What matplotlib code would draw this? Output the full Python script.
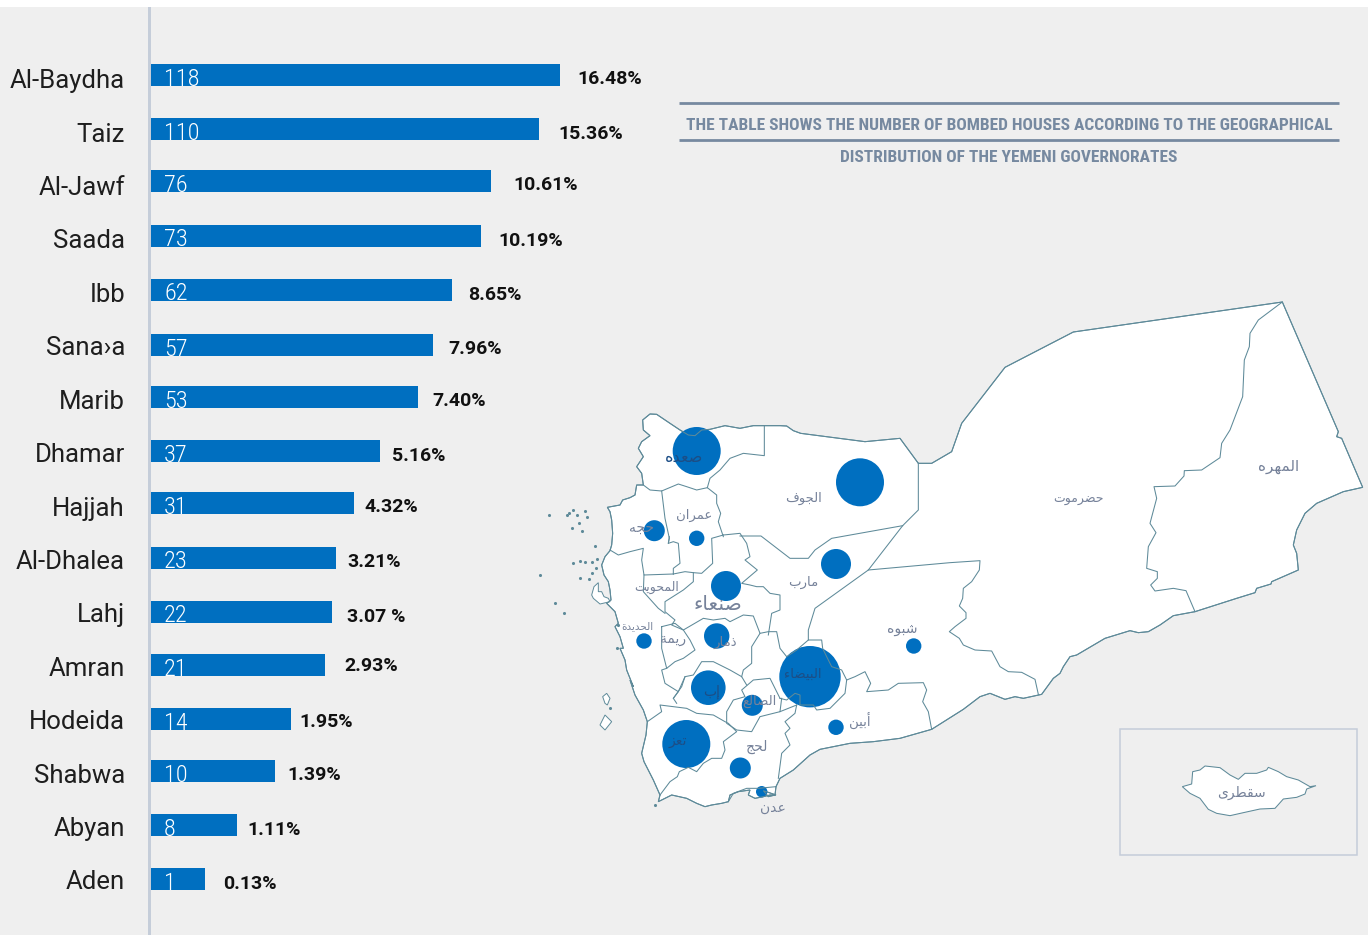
import matplotlib
matplotlib.use("Agg")
import matplotlib.pyplot as plt
from matplotlib.patches import Circle, Polygon, Rectangle

# ---------- data ----------
governorates = ["Al-Baydha", "Taiz", "Al-Jawf", "Saada", "Ibb", "Sana\u203aa", "Marib", "Dhamar",
                "Hajjah", "Al-Dhalea", "Lahj", "Amran", "Hodeida", "Shabwa", "Abyan", "Aden"]
houses = [118, 110, 76, 73, 62, 57, 53, 37, 31, 23, 22, 21, 14, 10, 8, 1]
percent_labels = ["16.48%", "15.36%", "10.61%", "10.19%", "8.65%", "7.96%", "7.40%", "5.16%",
                  "4.32%", "3.21%", "3.07 %", "2.93%", "1.95%", "1.39%", "1.11%", "0.13%"]
bar_lengths = [409, 388, 340, 330, 301, 282, 267, 229, 203, 185, 181, 174, 140, 124, 86, 54]

map_names = ["صعده", "الجوف", "عمران", "حجه", "المحويت", "صنعاء", "مارب", "الحديدة", "ريمة", "ذمار",
             "شبوه", "البيضاء", "إب", "الضالع", "أبين", "تعز", "لحج", "عدن", "حضرموت", "المهره", "سقطرى"]

# ---------- layout (pixels) ----------
bar_y = [75, 129, 181, 236, 290, 345, 397, 451, 503, 558, 612, 665, 719, 771, 825, 879]
label_y = [81, 135, 188, 241, 295, 348, 402, 455, 509, 562, 615, 669, 722, 776, 829, 882]
pct_x = [577, 558, 513, 498, 468, 448, 432, 392, 364, 347, 347, 344, 299, 287, 247, 223]
pct_y = [79, 134, 185, 241, 295, 349, 401, 456, 507, 562, 617, 666, 722, 775, 830, 884]
bubble_xy = [(696.7, 451), (860, 482.3), (654.3, 530.7), (696.7, 538.3), (726, 586), (836, 564),
             (644, 641), (716.7, 636), (708.3, 687.7), (810, 676.7), (752.3, 705.3), (686.3, 744),
             (740.3, 768), (836, 727.3), (913.7, 646), (761.7, 791.7)]
bubble_r = [24, 24, 10.5, 7.7, 15, 15, 7.7, 12.7, 17.3, 30.7, 10.5, 24, 10.5, 7.7, 7.7, 5.7]
name_xy = [(684, 457, 11.5), (803, 498, 9.5), (694, 515, 9.5), (641, 528, 10), (657, 587, 9), (718, 604, 14.5),
           (803, 582, 9.5), (637, 626, 7.5), (673, 639, 10), (725, 642, 9.5), (902, 629, 10), (803, 674, 9.5),
           (712, 692, 10), (759, 701, 9.5), (860, 721, 9.5), (678, 741, 10), (757, 747, 10), (773, 808, 10),
           (1078, 499, 9), (1279, 467, 11), (1241, 793, 10)]
on_bubble = {"صعده", "البيضاء", "إب", "تعز"}


def z1(pts):
    return [(530 + x / 3, 400 + y / 3) for x, y in pts]


def z2(pts):
    return [(900 + x / 3, 290 + y / 3) for x, y in pts]


def z3(pts):
    return [(1110 + x / 3, 720 + y / 3) for x, y in pts]


def z4(pts):
    return [(530 + x / 3, 500 + y / 3) for x, y in pts]


def z5(pts):
    return [(590 + x / 3, 680 + y / 3) for x, y in pts]


def z6(pts):
    return [(630 + x / 3, 405 + y / 3) for x, y in pts]


outline = (
    z6([(38, 45), (60, 27), (80, 28), (120, 55), (150, 75), (175, 90), (195, 92), (215, 75), (240, 73),
        (285, 62), (330, 70), (370, 62), (403, 62), (450, 62)])
    + z1([(770, 78), (790, 92), (812, 100), (1005, 125), (1110, 115), (1165, 190)])
    + z2([(55, 520), (95, 520), (155, 485), (185, 400), (315, 232), (520, 126), (1147, 36), (1315, 425),
          (1310, 440), (1325, 445), (1388, 592), (1330, 605), (1250, 640), (1215, 670), (1190, 720),
          (1180, 765), (1190, 790), (1195, 840), (1115, 875), (1113, 882), (1070, 895), (1065, 908),
          (1010, 925), (885, 965), (820, 977), (780, 1005), (745, 1025), (715, 1028), (690, 1022),
          (615, 1045), (530, 1095), (510, 1100), (490, 1130), (480, 1150), (460, 1165), (425, 1213),
          (370, 1225), (345, 1220), (315, 1228), (270, 1210), (240, 1220), (190, 1258)])
    + z1([(1205, 988), (1110, 1015), (1030, 1025), (960, 1030), (870, 1048), (840, 1065), (790, 1110),
          (750, 1135), (738, 1160), (735, 1185), (715, 1190), (700, 1172)])
    + z5([(558, 345), (540, 345), (520, 350), (495, 355), (475, 345), (480, 330), (445, 335), (420, 345),
          (415, 365), (395, 370), (365, 375), (345, 380), (320, 370), (290, 355), (245, 345), (225, 355),
          (205, 365), (210, 345), (190, 300), (162, 245), (155, 220), (168, 165), (172, 125), (160, 90),
          (135, 45), (120, 0)])
    + z1([(310, 860), (290, 810), (285, 780), (270, 745)])
    + z4([(280, 445), (270, 410), (255, 380), (265, 370), (255, 335), (230, 310), (243, 300), (240, 270),
          (235, 245), (222, 225), (215, 195), (225, 170), (240, 152), (245, 135), (248, 100), (245, 60),
          (240, 35), (232, 22), (270, 15), (278, 0)])
    + z6([(0, 278), (15, 270), (20, 240), (40, 240), (35, 205), (20, 185), (40, 155), (25, 130), (35, 110),
          (60, 92), (40, 75)])
)

borders = [
    z6([(403, 62), (403, 152), (340, 145), (300, 160), (270, 195), (240, 220), (232, 248)]),
    z6([(40, 240), (60, 255), (95, 258), (145, 237), (170, 245), (200, 255), (232, 248), (260, 270), (260, 295),
        (272, 325), (265, 350), (280, 395)]),
    z6([(95, 258), (105, 340), (118, 400), (115, 415)]),
    z1([(418, 410), (415, 430), (430, 425), (445, 430), (450, 490), (430, 505), (430, 522)]),
    z1([(580, 405), (545, 415), (548, 490), (515, 520), (490, 518), (465, 515), (430, 522)]),
    z1([(240, 450), (265, 465), (300, 455), (340, 445), (335, 480), (342, 525), (430, 522)]),
    z1([(580, 405), (630, 400), (650, 430), (660, 470), (645, 480), (682, 510), (635, 550), (660, 555),
        (680, 560), (700, 560), (720, 580), (750, 585), (750, 630), (725, 640), (715, 705)]),
    z1([(490, 518), (490, 545), (460, 570), (405, 605), (405, 635), (435, 660), (425, 675), (460, 690),
        (520, 655), (550, 660), (585, 655), (600, 665), (640, 645), (670, 648), (690, 700), (715, 695),
        (740, 695), (750, 745), (770, 770), (800, 750), (835, 720)]),
    z1([(342, 525), (340, 575), (385, 625), (405, 640)]),
    z1([(630, 408), (693, 408), (780, 475), (835, 475), (855, 450), (905, 415), (1118, 377)]),
    z1([(1165, 190), (1165, 330), (1118, 377), (1015, 510), (855, 625), (835, 690), (835, 720), (875, 720),
        (878, 745), (890, 770), (905, 800), (935, 810), (950, 840), (945, 880), (900, 925), (860, 930),
        (850, 915), (810, 915), (810, 885), (795, 880), (770, 900), (750, 895)]),
    z1([(1015, 510), (1260, 488)]) + z2([(240, 812), (238, 840), (215, 875), (190, 895), (188, 925),
                                         (178, 948), (198, 968), (198, 985), (165, 1010), (148, 1025),
                                         (178, 1045), (190, 1065), (225, 1080), (275, 1083), (300, 1130),
                                         (325, 1145), (365, 1147), (405, 1168), (415, 1213)]),
    z1([(950, 840), (975, 830), (1005, 815), (1022, 850), (1010, 875), (1075, 870), (1105, 850), (1180, 848),
        (1190, 870), (1178, 905), (1195, 935), (1205, 988)]),
    z1([(800, 915), (795, 940), (765, 965), (780, 985), (765, 1000), (780, 1035), (755, 1060), (745, 1135)]),
    z1([(750, 895), (720, 835), (670, 840), (635, 870), (645, 890), (610, 900), (590, 935), (590, 970),
        (620, 990), (665, 995), (690, 950), (750, 935), (755, 895)]),
    z1([(750, 935), (800, 915)]),
    z1([(430, 895), (455, 860), (465, 830), (490, 825), (515, 785), (550, 785), (600, 810), (635, 830),
        (650, 855)]),
    z5([(172, 125), (215, 95), (210, 75), (250, 80), (290, 85), (320, 100), (370, 105), (405, 125), (415, 130),
        (440, 155), (400, 185), (405, 210), (395, 235), (365, 235), (340, 250), (320, 275), (295, 262),
        (268, 275), (262, 290), (240, 305), (210, 345)]),
    z1([(690, 700), (665, 740), (665, 790), (640, 810), (635, 830)]),
    z1([(395, 680), (435, 670), (460, 690), (480, 720), (495, 750), (460, 775), (435, 785), (410, 805),
        (395, 745), (395, 680)]),
    z1([(410, 805), (395, 810), (405, 850), (445, 875), (465, 830)]),
    z1([(445, 875), (430, 895), (440, 910)]),
    z5([(415, 365), (430, 340), (470, 325), (505, 325), (558, 320)]),
    z2([(1147, 36), (1075, 90), (1050, 130), (1048, 170), (1033, 210), (1028, 320), (990, 420), (965, 460),
        (960, 503), (905, 540), (853, 542), (852, 558), (825, 588), (762, 590), (770, 625), (750, 700),
        (768, 728), (745, 770), (740, 835), (772, 845), (772, 865), (752, 885), (765, 903), (820, 895),
        (858, 902), (885, 965)]),
]

islands = [
    z4([(185, 285), (192, 260), (205, 248), (205, 275), (215, 275), (222, 290), (235, 295), (240, 305), (210, 312),
        (190, 295)]),
    z5([(38, 50), (50, 40), (60, 55), (52, 75), (45, 70)]),
    z5([(30, 135), (45, 105), (65, 125), (45, 150)]),
]
island_dots = z4([(58, 44), (110, 44), (118, 40), (130, 30), (140, 45), (165, 32), (172, 50), (147, 70),
                  (127, 84), (155, 93), (196, 138), (130, 190), (150, 183), (165, 185), (185, 187), (200, 178),
                  (198, 205), (185, 220), (150, 235), (178, 238), (30, 225), (75, 308), (103, 340),
                  (265, 375), (262, 445)]) + z5([(60, 85), (195, 374)])

socotra = z3([(217, 200), (245, 192), (248, 155), (270, 150), (285, 138), (330, 143), (360, 165), (385, 178),
              (405, 160), (440, 160), (470, 150), (475, 142), (505, 155), (530, 170), (565, 180), (600, 200),
              (618, 197), (590, 207), (585, 222), (560, 232), (520, 237), (495, 265), (450, 267), (400, 278),
              (360, 287), (320, 280), (295, 268), (270, 235), (240, 220)])

# ---------- Arabic shaping (matplotlib draws glyphs left to right without joining) ----------
FORMS = {
    "ا": (0xFE8D, 0xFE8E), "أ": (0xFE83, 0xFE84), "إ": (0xFE87, 0xFE88), "ء": (0xFE80,),
    "ب": (0xFE8F, 0xFE90, 0xFE91, 0xFE92), "ة": (0xFE93, 0xFE94), "ت": (0xFE95, 0xFE96, 0xFE97, 0xFE98),
    "ج": (0xFE9D, 0xFE9E, 0xFE9F, 0xFEA0), "ح": (0xFEA1, 0xFEA2, 0xFEA3, 0xFEA4), "د": (0xFEA9, 0xFEAA),
    "ذ": (0xFEAB, 0xFEAC), "ر": (0xFEAD, 0xFEAE), "ز": (0xFEAF, 0xFEB0), "س": (0xFEB1, 0xFEB2, 0xFEB3, 0xFEB4),
    "ش": (0xFEB5, 0xFEB6, 0xFEB7, 0xFEB8), "ص": (0xFEB9, 0xFEBA, 0xFEBB, 0xFEBC),
    "ض": (0xFEBD, 0xFEBE, 0xFEBF, 0xFEC0), "ط": (0xFEC1, 0xFEC2, 0xFEC3, 0xFEC4),
    "ع": (0xFEC9, 0xFECA, 0xFECB, 0xFECC), "ف": (0xFED1, 0xFED2, 0xFED3, 0xFED4),
    "ق": (0xFED5, 0xFED6, 0xFED7, 0xFED8), "ل": (0xFEDD, 0xFEDE, 0xFEDF, 0xFEE0),
    "م": (0xFEE1, 0xFEE2, 0xFEE3, 0xFEE4), "ن": (0xFEE5, 0xFEE6, 0xFEE7, 0xFEE8),
    "ه": (0xFEE9, 0xFEEA, 0xFEEB, 0xFEEC), "و": (0xFEED, 0xFEEE), "ى": (0xFEEF, 0xFEF0),
    "ي": (0xFEF1, 0xFEF2, 0xFEF3, 0xFEF4),
}
DUAL = {c for c, f in FORMS.items() if len(f) == 4} - {"ى"}


def shape(word):
    out = []
    for i, c in enumerate(word):
        joins_prev = i > 0 and word[i - 1] in DUAL and len(FORMS[c]) > 1
        joins_next = c in DUAL and i + 1 < len(word) and len(FORMS[word[i + 1]]) > 1
        f = FORMS[c]
        if joins_prev and joins_next:
            g = f[3]
        elif joins_next:
            g = f[2]
        elif joins_prev:
            g = f[1]
        else:
            g = f[0]
        out.append(chr(g))
    return "".join(reversed(out))


# ---------- figure ----------
BG = "#EFEFEF"
BLUE = "#006FC0"
EDGE = "#5E8A99"
RULE = "#7689A0"
SIDE = "#C5CDD9"
TEXT = "#1E1E1E"
ARABIC = "#76829A"

fig = plt.figure(figsize=(13.68, 9.35), dpi=100, facecolor="white")
ax = fig.add_axes([0, 0, 1, 1])
ax.set_xlim(0, 1368)
ax.set_ylim(935, 0)
ax.axis("off")
ax.add_patch(Rectangle((0, 7), 1368, 928, facecolor=BG, edgecolor="none", zorder=0))

# bars
ax.barh(bar_y, bar_lengths, left=151, height=22, color=BLUE, zorder=2)
ax.add_patch(Rectangle((147.5, 7), 3.5, 928, facecolor=SIDE, edgecolor="none", zorder=3))
for i, name in enumerate(governorates):
    ax.text(125, label_y[i], name, ha="right", va="center", fontsize=18.5, color=TEXT,
            family="Roboto", weight="normal", zorder=4)
    ax.text(164, bar_y[i] + 4, str(houses[i]), ha="left", va="center", fontsize=17.5, color="white",
            family="Roboto Condensed", weight="light", zorder=4)
    ax.text(pct_x[i], pct_y[i], percent_labels[i], ha="left", va="center", fontsize=14,
            color="#111111", family="Roboto", weight="bold", zorder=4)

# title
for y in (102.5, 139.5):
    ax.plot([679, 1339], [y, y], color=RULE, lw=2, solid_capstyle="butt", zorder=2)
ax.text(1009, 125, "THE TABLE SHOWS THE NUMBER OF BOMBED HOUSES ACCORDING TO THE GEOGRAPHICAL", ha="center",
        va="center", fontsize=12.55, color=RULE, family="Roboto Condensed", weight="bold")
ax.text(1009, 157, "DISTRIBUTION OF THE YEMENI GOVERNORATES", ha="center", va="center", fontsize=12.55,
        color=RULE, family="Roboto Condensed", weight="bold")

# map
ax.add_patch(Polygon(outline, closed=True, facecolor="white", edgecolor=EDGE, lw=0.75, zorder=2))
for poly in islands:
    ax.add_patch(Polygon(poly, closed=True, facecolor="white", edgecolor=EDGE, lw=0.7, zorder=2))
ax.scatter(*zip(*island_dots), s=5, color=EDGE, linewidths=0, zorder=2)
for xy, r in zip(bubble_xy, bubble_r):
    ax.add_patch(Circle(xy, r, facecolor=BLUE, edgecolor="none", zorder=3))
for line in borders:
    xs, ys = zip(*line)
    ax.plot(xs, ys, color=EDGE, lw=0.75, solid_joinstyle="round", zorder=4)
ax.add_patch(Polygon(outline, closed=True, facecolor="none", edgecolor=EDGE, lw=0.75, zorder=4))

# Socotra inset
ax.add_patch(Rectangle((1120, 729), 236.7, 126, facecolor="none", edgecolor=SIDE, lw=1.1, zorder=2))
ax.add_patch(Polygon(socotra, closed=True, facecolor="white", edgecolor=EDGE, lw=0.75, zorder=2))

for word, (x, y, size) in zip(map_names, name_xy):
    ax.text(x, y, shape(word), ha="center", va="center", fontsize=size,
            color="#1C4E86" if word in on_bubble else ARABIC, family="DejaVu Sans", zorder=5)

fig.savefig("out.png", dpi=100, facecolor="white")
